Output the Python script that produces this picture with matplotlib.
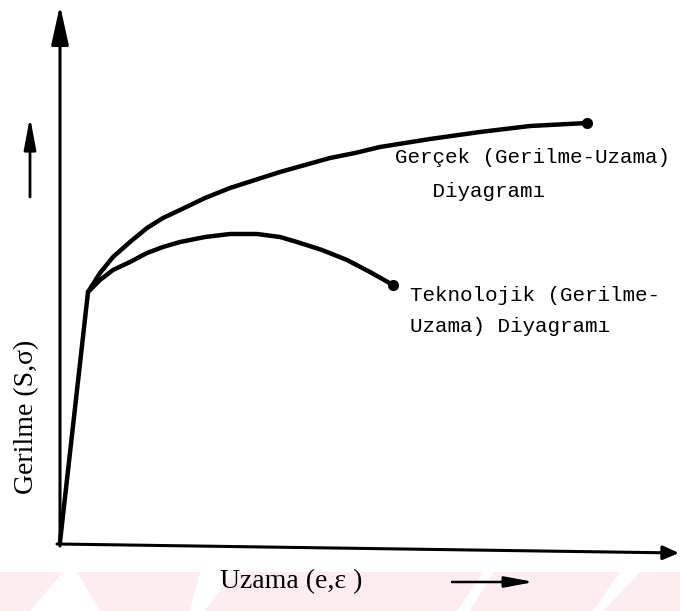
import numpy as np
import matplotlib.pyplot as plt
from matplotlib.patches import Polygon

# strain / stress (arbitrary units, origin at axes corner)
elastic_e = [0, 28]
elastic_s = [3, 253]

true_e = [28, 40, 53, 70, 87, 103, 120, 145, 170, 195, 220, 245, 270, 295, 320, 370, 420, 470, 527]
true_s = [253, 272, 288, 303, 317, 327, 335, 347, 357, 365, 373, 380, 387, 392, 398, 406, 413, 419, 422]

eng_e = [28, 40, 53, 70, 87, 103, 120, 145, 170, 197, 220, 237, 262, 287, 310, 333]
eng_s = [253, 265, 275, 283, 292, 298, 303, 308, 311, 311, 308, 303, 295, 285, 273, 260]

true_label = "Gerçek (Gerilme-Uzama)\n   Diyagramı"
eng_label = "Teknolojik (Gerilme-\nUzama) Diyagramı"
xlabel = "Uzama (e,ε )"
ylabel = "Gerilme (S,σ)"

fig = plt.figure(figsize=(6.8, 6.11), dpi=100)
ax = fig.add_axes([0, 0, 1, 1])
ax.set_xlim(-60, 620)
ax.set_ylim(-66, 545)
ax.axis('off')

# faint pink watermark band at the bottom
ax.axhspan(-66, -27, color='#fdedf0', zorder=0, lw=0)
stripes = [[(3, -27), (17, -27), (40, -66), (-30, -66)],
           [(140, -27), (173, -27), (145, -66), (130, -66)],
           [(423, -27), (433, -27), (410, -66), (397, -66)],
           [(560, -27), (580, -27), (543, -66), (533, -66)]]
for s in stripes:
    ax.add_patch(Polygon(s, closed=True, color='white', lw=0, zorder=0.5))

k = dict(color='black', lw=3.2, solid_capstyle='round', solid_joinstyle='round')

# axes with arrows
ax.annotate('', xy=(0, 540), xytext=(0, -1), annotation_clip=False,
            arrowprops=dict(arrowstyle='-|>,head_length=1.6,head_width=0.35',
                            mutation_scale=15, color='black', lw=2.2,
                            shrinkA=0, shrinkB=0))
ax.annotate('', xy=(619, -8), xytext=(-3, 1), annotation_clip=False,
            arrowprops=dict(arrowstyle='-|>,head_length=0.8,head_width=0.35',
                            mutation_scale=12, color='black', lw=2.2,
                            shrinkA=0, shrinkB=0))
ax.annotate('', xy=(-30, 428), xytext=(-30, 348), annotation_clip=False,
            arrowprops=dict(arrowstyle='-|>,head_length=1.6,head_width=0.3',
                            mutation_scale=12, color='black', lw=2.0,
                            shrinkA=0, shrinkB=0))
ax.annotate('', xy=(474, -37), xytext=(392, -37), annotation_clip=False,
            arrowprops=dict(arrowstyle='-|>,head_length=1.6,head_width=0.3',
                            mutation_scale=11, color='black', lw=1.8,
                            shrinkA=0, shrinkB=0))

# curves
ax.plot(elastic_e, elastic_s, **k)
ax.plot(true_e, true_s, **k)
ax.plot(eng_e, eng_s, **k)
ax.plot(true_e[-1], true_s[-1], 'o', color='black', ms=7)
ax.plot(eng_e[-1], eng_s[-1], 'o', color='black', ms=7)

mono = dict(family='Liberation Mono', fontsize=15, color='black')
ax.text(335, 397, true_label, ha='left', va='top', linespacing=2.0, **mono)
ax.text(350, 259, eng_label, ha='left', va='top', linespacing=1.8, **mono)

serif = dict(family='Liberation Serif', fontsize=20, color='black')
ax.text(160, -37, xlabel, ha='left', va='center', **serif)
ax.text(-33, 128, ylabel, ha='center', va='center', rotation=90, **serif)

fig.savefig('out.png', dpi=100)
